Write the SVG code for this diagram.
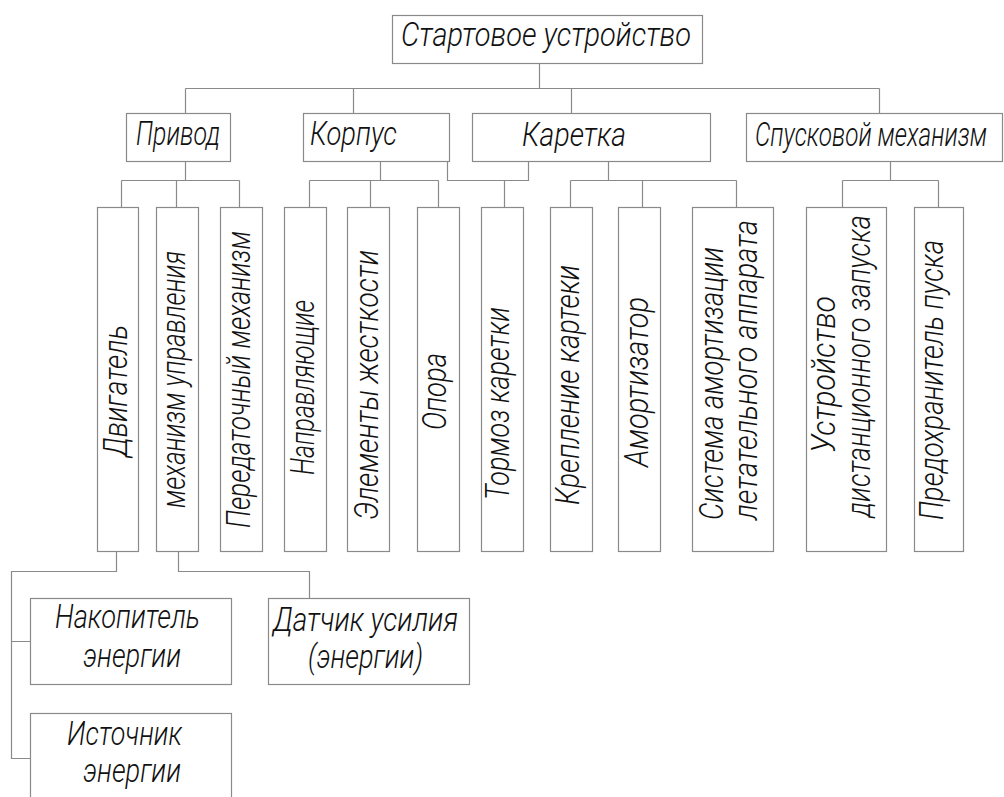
<svg xmlns="http://www.w3.org/2000/svg" width="1004" height="797" viewBox="0 0 1004 797">
<style>
.b{fill:#fff;stroke:#8a8a8a;stroke-width:1.2}
.c{fill:none;stroke:#8a8a8a;stroke-width:1.2}
.t{font-family:Roboto,"Liberation Sans","DejaVu Sans",sans-serif;font-weight:300;font-style:italic;font-size:33px;fill:#111}
</style>
<rect width="1004" height="797" fill="#fff"/>
<g id="connectors" class="c">
<path d="M539.5,63 V88.5 M185.5,88.5 H879.5 M185.5,88.5 V113 M353.5,88.5 V113 M571.5,88.5 V113 M879.5,88.5 V113"/>
<path d="M185.5,161 V180.5 M121.5,180.5 H239.5 M121.5,180.5 V207 M176.5,180.5 V207 M239.5,180.5 V207"/>
<path d="M380.5,161 V180.5 M309.5,180.5 H438.5 M309.5,180.5 V207 M370.5,180.5 V207 M438.5,180.5 V207"/>
<path d="M447.5,161 V180.5 H528.5 V161 M504.5,180.5 V207"/>
<path d="M608.5,161 V180.5 M570.5,180.5 H736.5 M570.5,180.5 V207 M642.5,180.5 V207 M736.5,180.5 V207"/>
<path d="M890.5,161 V180.5 M842.5,180.5 H938.5 M842.5,180.5 V207 M938.5,180.5 V207"/>
<path d="M116.5,552 V571.5 H11.5 V758.5 H30.5 M11.5,641.5 H30.5"/>
<path d="M178.5,552 V571.5 H309.5 V598"/>
</g>
<g id="n-root"><rect class="b" x="392.5" y="15.5" width="310" height="48"/><text class="t" x="401" y="46" textLength="290" lengthAdjust="spacingAndGlyphs">Стартовое устройство</text></g>
<g id="n-privod"><rect class="b" x="126.5" y="113.5" width="104" height="48"/><text class="t" x="136" y="145" textLength="84" lengthAdjust="spacingAndGlyphs">Привод</text></g>
<g id="n-korpus"><rect class="b" x="303.5" y="113.5" width="146" height="48"/><text class="t" x="310" y="145" textLength="87" lengthAdjust="spacingAndGlyphs">Корпус</text></g>
<g id="n-karetka"><rect class="b" x="472.5" y="113.5" width="238" height="48"/><text class="t" x="522" y="146" textLength="104" lengthAdjust="spacingAndGlyphs">Каретка</text></g>
<g id="n-spusk"><rect class="b" x="746.5" y="113.5" width="256" height="48"/><text class="t" x="755" y="146" font-size="32" textLength="232" lengthAdjust="spacingAndGlyphs">Спусковой механизм</text></g>

<g id="n-dvig"><rect class="b" x="97.5" y="207.5" width="41" height="344"/><text class="t" transform="translate(127,457) rotate(-90)" textLength="132" lengthAdjust="spacingAndGlyphs">Двигатель</text></g>
<g id="n-mehupr"><rect class="b" x="156.5" y="207.5" width="42" height="344"/><text class="t" transform="translate(185,508) rotate(-90)" textLength="257" lengthAdjust="spacingAndGlyphs">механизм управления</text></g>
<g id="n-pered"><rect class="b" x="220.5" y="207.5" width="42" height="344"/><text class="t" transform="translate(250,528) rotate(-90)" textLength="297" lengthAdjust="spacingAndGlyphs">Передаточный механизм</text></g>
<g id="n-naprav"><rect class="b" x="284.5" y="207.5" width="42" height="344"/><text class="t" transform="translate(314,475) rotate(-90)" textLength="175" lengthAdjust="spacingAndGlyphs">Направляющие</text></g>
<g id="n-elem"><rect class="b" x="347.5" y="207.5" width="42" height="344"/><text class="t" transform="translate(378,520) rotate(-90)" textLength="270" lengthAdjust="spacingAndGlyphs">Элементы жесткости</text></g>
<g id="n-opora"><rect class="b" x="417.5" y="207.5" width="42" height="344"/><text class="t" transform="translate(446,430) rotate(-90)" textLength="77" lengthAdjust="spacingAndGlyphs">Опора</text></g>
<g id="n-tormoz"><rect class="b" x="481.5" y="207.5" width="42" height="344"/><text class="t" transform="translate(509,500) rotate(-90)" textLength="193" lengthAdjust="spacingAndGlyphs">Тормоз каретки</text></g>
<g id="n-kreplenie"><rect class="b" x="550.5" y="207.5" width="42" height="344"/><text class="t" transform="translate(579,505) rotate(-90)" textLength="240" lengthAdjust="spacingAndGlyphs">Крепление картеки</text></g>
<g id="n-amort"><rect class="b" x="618.5" y="207.5" width="42" height="344"/><text class="t" transform="translate(648,467) rotate(-90)" textLength="170" lengthAdjust="spacingAndGlyphs">Амортизатор</text></g>
<g id="n-sistema"><rect class="b" x="692.5" y="207.5" width="81" height="344"/><text class="t" transform="translate(723,520) rotate(-90)" textLength="273" lengthAdjust="spacingAndGlyphs">Система амортизации</text><text class="t" transform="translate(757,520) rotate(-90)" textLength="300" lengthAdjust="spacingAndGlyphs">летательного аппарата</text></g>
<g id="n-ustr"><rect class="b" x="806.5" y="207.5" width="80" height="344"/><text class="t" transform="translate(835,453) rotate(-90)" textLength="157" lengthAdjust="spacingAndGlyphs">Устройство</text><text class="t" transform="translate(870,517) rotate(-90)" textLength="302" lengthAdjust="spacingAndGlyphs">дистанционного запуска</text></g>
<g id="n-predohr"><rect class="b" x="914.5" y="207.5" width="49" height="344"/><text class="t" transform="translate(943,520) rotate(-90)" textLength="280" lengthAdjust="spacingAndGlyphs">Предохранитель пуска</text></g>

<g id="n-nakop"><rect class="b" x="30.5" y="598.5" width="201" height="86"/><text class="t" x="55" y="628" textLength="145" lengthAdjust="spacingAndGlyphs">Накопитель</text><text class="t" x="83" y="667" textLength="98" lengthAdjust="spacingAndGlyphs">энергии</text></g>
<g id="n-datchik"><rect class="b" x="268.5" y="598.5" width="201" height="86"/><text class="t" x="273" y="631" textLength="185" lengthAdjust="spacingAndGlyphs">Датчик усилия</text><text class="t" x="308" y="668" textLength="115" lengthAdjust="spacingAndGlyphs">(энергии)</text></g>
<g id="n-istoch"><rect class="b" x="30.5" y="713.5" width="201" height="100"/><text class="t" x="67" y="745" textLength="115" lengthAdjust="spacingAndGlyphs">Источник</text><text class="t" x="83" y="782" textLength="98" lengthAdjust="spacingAndGlyphs">энергии</text></g>
</svg>
